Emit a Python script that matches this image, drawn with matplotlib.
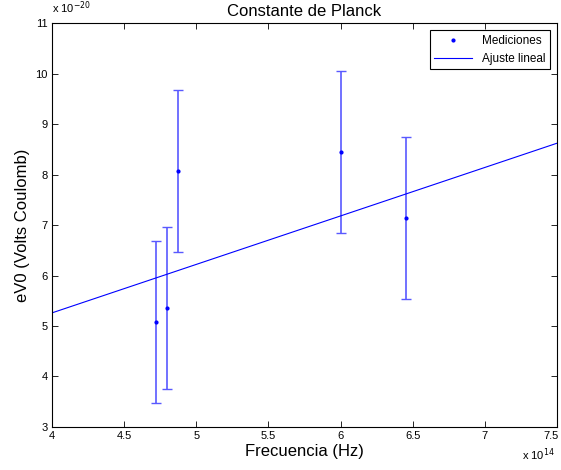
import numpy as np
import matplotlib.pyplot as plt
from matplotlib.transforms import ScaledTranslation

plt.rcParams['font.family'] = ['Liberation Sans', 'DejaVu Sans']

# mediciones (Hz, J)
frecuencia = np.array([4.72e14, 4.80e14, 4.875e14, 6.00e14, 6.45e14])
eV0 = np.array([5.08e-20, 5.36e-20, 8.07e-20, 8.45e-20, 7.14e-20])
error = np.array([1.60e-20, 1.60e-20, 1.60e-20, 1.60e-20, 1.60e-20])

# ajuste lineal eV0 = h*f + b
h_ajuste = 9.6e-35
b_ajuste = 1.42e-20

escala_x = 1e14
escala_y = 1e-20

fig = plt.figure(figsize=(5.61, 4.70), dpi=100)
ax = fig.add_axes([0.0927, 0.0915, 0.9002, 0.8595])

ax.errorbar(frecuencia / escala_x, eV0 / escala_y, yerr=error / escala_y,
            fmt='none', ecolor=(0.35, 0.35, 1.0), elinewidth=1.2, capsize=3.5)
ax.plot(frecuencia / escala_x, eV0 / escala_y, '.', color='b', markersize=4,
        label='Mediciones')

xf = np.array([4.0, 7.5])
ax.plot(xf, (h_ajuste * xf * escala_x + b_ajuste) / escala_y, '-', color='b',
        linewidth=0.8, label='Ajuste lineal')

ax.set_xlim(4, 7.5)
ax.set_ylim(3, 11)
ax.set_xticks([4, 4.5, 5, 5.5, 6, 6.5, 7, 7.5])
ax.set_xticklabels(['4', '4.5', '5', '5.5', '6', '6.5', '7', '7.5'])
ax.set_yticks(range(3, 12))
ax.tick_params(direction='in', top=True, right=True, labelsize=8, length=4,
               width=0.6, pad=3)
for s in ax.spines.values():
    s.set_linewidth(0.8)

# el ultimo rotulo queda pegado al borde
ultimo = ax.get_xticklabels()[-1]
ultimo.set_transform(ultimo.get_transform() + ScaledTranslation(-4 / 72, 0, fig.dpi_scale_trans))

ax.set_title('Constante de Planck', fontsize=12, pad=5)
ax.set_xlabel('Frecuencia (Hz)', fontsize=12, labelpad=2)
ax.set_ylabel('eV0 (Volts Coulomb)', fontsize=12, labelpad=4)

fig.text(0.0927, 0.965, r'x 10$^{-20}$', fontsize=8, ha='left', va='bottom')
fig.text(0.988, 0.015, r'x 10$^{14}$', fontsize=8, ha='right', va='bottom')

leg = ax.legend(loc='upper right', fontsize=8.5, fancybox=False, framealpha=1,
                edgecolor='black', borderaxespad=0.6, handlelength=3.2)
leg.get_frame().set_linewidth(0.8)

fig.savefig('out.png', dpi=100)
